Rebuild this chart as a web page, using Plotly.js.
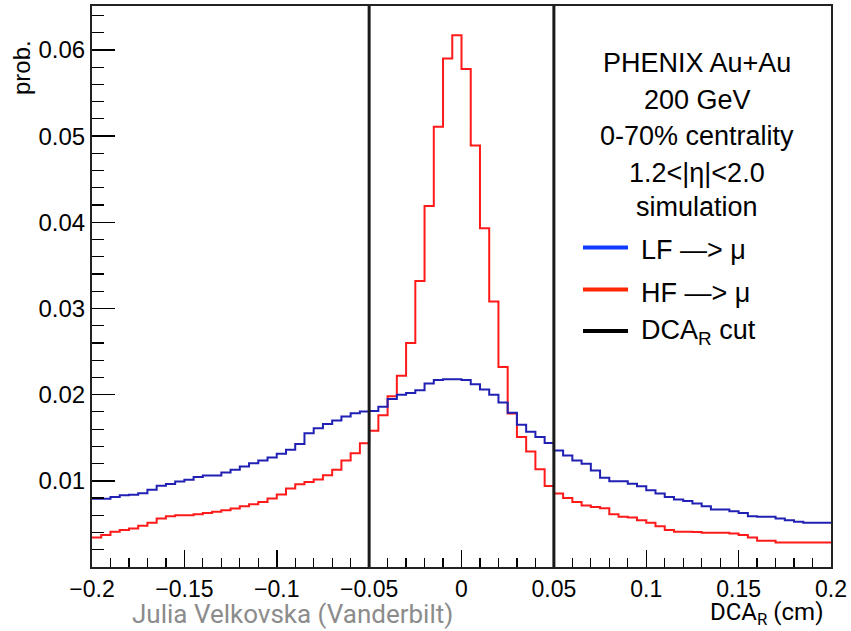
<!DOCTYPE html>
<html>
<head>
<meta charset="utf-8">
<script src="https://cdn.plot.ly/plotly-3.0.1.min.js"></script>
<style>html,body{margin:0;padding:0;background:#fff;}#chart{width:851px;height:631px;}</style>
</head>
<body>
<div id="chart"></div>
<script>
// ---- data ----
const histRange = [-0.2, 0.2];
const nBins = 80;
const hfValues = [
  0.00343, 0.00370, 0.00408, 0.00428, 0.00447, 0.00478, 0.00513, 0.00563, 0.00590, 0.00601,
  0.00601, 0.00613, 0.00628, 0.00640, 0.00659, 0.00678, 0.00705, 0.00728, 0.00755, 0.00794,
  0.00840, 0.00910, 0.00960, 0.00986, 0.01014, 0.01064, 0.01129, 0.01237, 0.01321, 0.01437,
  0.0158, 0.0176, 0.0198, 0.0222, 0.0260, 0.0332, 0.0419, 0.0511, 0.0590, 0.0617,
  0.0578, 0.0489, 0.0393, 0.0308, 0.0232, 0.0178, 0.0151, 0.0134, 0.01135, 0.0094,
  0.00852, 0.00801, 0.00755, 0.00713, 0.00697, 0.00682, 0.00613, 0.00582, 0.00574, 0.00543,
  0.00513, 0.00474, 0.00428, 0.00408, 0.00408, 0.00405, 0.00397, 0.00397, 0.00397, 0.00389,
  0.00370, 0.00343, 0.00304, 0.00304, 0.00285, 0.00285, 0.00285, 0.00285, 0.00285, 0.00285
];
const lfValues = [
  0.00791, 0.00791, 0.00811, 0.00834, 0.00838, 0.00857, 0.00896, 0.00942, 0.00962, 0.00992,
  0.01012, 0.01043, 0.01062, 0.01062, 0.01097, 0.01128, 0.01166, 0.01205, 0.01236, 0.01271,
  0.01313, 0.01360, 0.01426, 0.01553, 0.01611, 0.01658, 0.01700, 0.01746, 0.01785, 0.01804,
  0.0181, 0.0186, 0.0195, 0.0200, 0.0202, 0.0205, 0.0213, 0.0217, 0.0218, 0.0218,
  0.0217, 0.0212, 0.0206, 0.0200, 0.0191, 0.0179, 0.0165, 0.0157, 0.0151, 0.0144,
  0.01353, 0.01295, 0.01237, 0.01198, 0.01121, 0.01037, 0.00994, 0.00994, 0.00967, 0.00936,
  0.00890, 0.00852, 0.00813, 0.00782, 0.00767, 0.00736, 0.00705, 0.00667, 0.00667, 0.00647,
  0.00628, 0.00590, 0.00582, 0.00582, 0.00563, 0.00543, 0.00524, 0.00513, 0.00513, 0.00513
];
const cutValues = [-0.05, 0.05];
const xTickVals = [-0.2, -0.15, -0.1, -0.05, 0, 0.05, 0.1, 0.15, 0.2];
const xTickText = ["\u22120.2", "\u22120.15", "\u22120.1", "\u22120.05", "0", "0.05", "0.1", "0.15", "0.2"];
const yTickVals = [0.01, 0.02, 0.03, 0.04, 0.05, 0.06];
const yTickText = ["0.01", "0.02", "0.03", "0.04", "0.05", "0.06"];
const infoLines = ["PHENIX Au+Au", "200 GeV", "0-70% centrality", "1.2&lt;|η|&lt;2.0", "simulation"];
const legendLabels = ["LF —&gt; μ", "HF —&gt; μ", "DCA<sub>R</sub> cut"];

// ---- build ----
const binWidth = (histRange[1] - histRange[0]) / nBins;
const edges = [];
for (let i = 0; i <= nBins; i++) edges.push(+(histRange[0] + i * binWidth).toFixed(4));
function stepY(v) { return v.concat([v[v.length - 1]]); }

const W = 851, H = 631;
const M = {l: 92, r: 20, t: 6, b: 64};
const PW = W - M.l - M.r, PH = H - M.t - M.b;
const px = x => (x - M.l) / PW;
const py = y => 1 - (y - M.t) / PH;

const traces = [
  {x: edges, y: stepY(hfValues), type: 'scatter', mode: 'lines', line: {shape: 'hv', color: '#ff1a1a', width: 2}, hoverinfo: 'skip'},
  {x: edges, y: stepY(lfValues), type: 'scatter', mode: 'lines', line: {shape: 'hv', color: '#2020b4', width: 2}, hoverinfo: 'skip'}
];

const shapes = cutValues.map(c => ({type: 'line', xref: 'x', yref: 'paper', x0: c, x1: c, y0: 0, y1: 1, line: {color: '#1a1a1a', width: 3}, layer: 'above'}));
const legendColors = ['#0f3cff', '#ff2600', '#000000'];
const legendY = [247.5, 289.5, 331];
legendColors.forEach((col, i) => {
  shapes.push({type: 'line', xref: 'paper', yref: 'paper', x0: px(583), x1: px(628), y0: py(legendY[i]), y1: py(legendY[i]), line: {color: col, width: 4}});
});

const annFont = {family: 'Liberation Sans, Arial, sans-serif', size: 27, color: '#000'};
const annotations = [];
const infoY = [63, 100, 136, 173, 207];
infoLines.forEach((t, i) => annotations.push({xref: 'paper', yref: 'paper', x: px(697), y: py(infoY[i]), text: t, showarrow: false, xanchor: 'center', yanchor: 'middle', font: annFont}));
const legTextY = [250, 293, 332];
legendLabels.forEach((t, i) => annotations.push({xref: 'paper', yref: 'paper', x: px(639), y: py(legTextY[i]), text: t, showarrow: false, xanchor: 'left', yanchor: 'middle', font: annFont}));
annotations.push({xref: 'paper', yref: 'paper', x: px(22), y: py(68), text: 'prob.', textangle: -90, showarrow: false, xanchor: 'center', yanchor: 'middle', font: {family: 'Liberation Sans, Arial, sans-serif', size: 24, color: '#000'}});
annotations.push({xref: 'paper', yref: 'paper', x: px(826), y: py(613), text: 'DCA<sub>R</sub> (cm)', showarrow: false, xanchor: 'right', yanchor: 'middle', font: {family: 'Roboto, Liberation Sans, sans-serif', size: 24, color: '#000'}});
annotations.push({xref: 'paper', yref: 'paper', x: px(130), y: py(614), text: 'Julia Velkovska (Vanderbilt)', showarrow: false, xanchor: 'left', yanchor: 'middle', font: {family: 'Roboto, Liberation Sans, sans-serif', size: 26, color: '#8c8c8c'}});

const layout = {
  width: W, height: H, margin: M,
  paper_bgcolor: '#fff', plot_bgcolor: '#fff',
  showlegend: false,
  xaxis: {
    range: histRange, tickvals: xTickVals, ticktext: xTickText,
    ticks: 'inside', ticklen: 17, tickwidth: 1.5, tickcolor: '#000',
    minor: {dtick: 0.01, ticks: 'inside', ticklen: 9, tickwidth: 1.2, tickcolor: '#000', showgrid: false},
    showgrid: false, zeroline: false, showline: true, mirror: true, linecolor: '#222', linewidth: 2,
    tickfont: {family: 'Liberation Sans, Arial, sans-serif', size: 23, color: '#000'}
  },
  yaxis: {
    range: [0, 0.0651], tickvals: yTickVals, ticktext: yTickText,
    ticks: 'inside', ticklen: 23, tickwidth: 1.5, tickcolor: '#000',
    minor: {dtick: 0.002, tick0: 0, ticks: 'inside', ticklen: 12, tickwidth: 1.2, tickcolor: '#000', showgrid: false},
    showgrid: false, zeroline: false, showline: true, mirror: true, linecolor: '#222', linewidth: 2,
    tickfont: {family: 'Liberation Sans, Arial, sans-serif', size: 24, color: '#000'}
  },
  shapes: shapes,
  annotations: annotations
};

Plotly.newPlot('chart', traces, layout, {displayModeBar: false, staticPlot: true});
</script>
</body>
</html>
